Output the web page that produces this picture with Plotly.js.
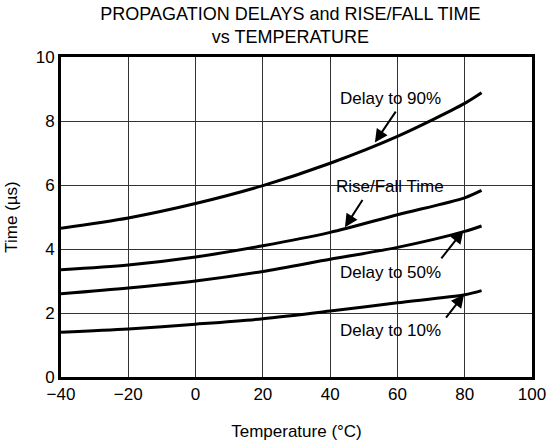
<!DOCTYPE html>
<html>
<head>
<meta charset="utf-8">
<script src="https://cdn.plot.ly/plotly-3.0.1.min.js"></script>
<style>html,body{margin:0;padding:0;background:#fff;}#chart{width:548px;height:446px;}</style>
</head>
<body>
<div id="chart"></div>
<script>
var temperature = [-40, -20, 0, 20, 40, 60, 80, 85];
var delay90 = [4.65, 4.97, 5.42, 5.98, 6.68, 7.52, 8.55, 8.88];
var riseFall = [3.35, 3.5, 3.75, 4.1, 4.52, 5.07, 5.6, 5.83];
var delay50 = [2.6, 2.78, 3.0, 3.3, 3.68, 4.05, 4.55, 4.72];
var delay10 = [1.4, 1.5, 1.65, 1.82, 2.06, 2.32, 2.57, 2.7];

var labels = ["Delay to 90%", "Rise/Fall Time", "Delay to 50%", "Delay to 10%"];
var labelX = [57.8, 57.8, 57.8, 57.8];
var labelY = [8.69, 5.94, 3.27, 1.46];
var arrowTipX = [53.3, 44.4, 79.6, 79.8];
var arrowTipY = [7.33, 4.68, 4.58, 2.58];
var arrowTailX = [59.8, 49.9, 72.7, 74.1];
var arrowTailY = [8.34, 5.58, 3.66, 1.81];

var series = [delay90, riseFall, delay50, delay10];
var traces = series.map(function (s, i) {
  return {
    x: temperature, y: s, type: 'scatter', mode: 'lines', name: labels[i],
    line: {color: '#000', width: 3, shape: 'spline', smoothing: 0.8},
    hoverinfo: 'skip'
  };
});

var fam = 'Liberation Sans, Arial, sans-serif';
var font = {family: fam, size: 17, color: '#000'};
var annotations = [];
labels.forEach(function (t, i) {
  annotations.push({
    x: labelX[i], y: labelY[i], xref: 'x', yref: 'y', text: t, showarrow: false,
    font: font
  });
  annotations.push({
    x: arrowTipX[i], y: arrowTipY[i], xref: 'x', yref: 'y',
    ax: arrowTailX[i], ay: arrowTailY[i], axref: 'x', ayref: 'y',
    text: '', showarrow: true, arrowhead: 2, arrowsize: 1.3, arrowwidth: 2, arrowcolor: '#000'
  });
});

var layout = {
  width: 548, height: 446,
  margin: {l: 61, r: 16, t: 57, b: 69},
  paper_bgcolor: '#fff', plot_bgcolor: '#fff',
  font: font,
  showlegend: false,
  title: {
    text: 'PROPAGATION DELAYS and RISE/FALL TIME<br>vs TEMPERATURE',
    x: 0.53, xanchor: 'center', xref: 'container',
    y: 0.955, yref: 'container', yanchor: 'top',
    font: {family: fam, size: 18, color: '#000'}
  },
  xaxis: {
    range: [-40, 100], tickvals: [-40, -20, 0, 20, 40, 60, 80, 100],
    ticktext: ['\u221240', '\u221220', '0', '20', '40', '60', '80', '100'],
    showgrid: true, gridcolor: '#333', gridwidth: 1, zeroline: false,
    showline: true, linecolor: '#000', linewidth: 3, mirror: true,
    ticks: '', ticklen: 0, tickfont: font,
    title: {text: 'Temperature (\u00b0C)', font: font, standoff: 22}
  },
  yaxis: {
    range: [0, 10], tickvals: [0, 2, 4, 6, 8, 10],
    showgrid: true, gridcolor: '#333', gridwidth: 1, zeroline: false,
    showline: true, linecolor: '#000', linewidth: 3, mirror: true,
    ticks: '', ticklen: 0, tickfont: font,
    title: {text: 'Time (\u00b5s)', font: font, standoff: 14}
  },
  annotations: annotations
};

Plotly.newPlot('chart', traces, layout, {displayModeBar: false, staticPlot: true});
</script>
</body>
</html>
